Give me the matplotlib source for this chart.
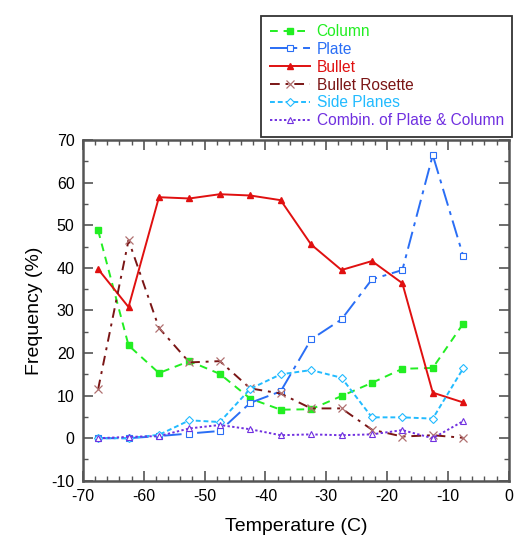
import matplotlib
matplotlib.use("Agg")
import matplotlib.pyplot as plt
from matplotlib.ticker import MultipleLocator

plt.rcParams['font.family'] = ['Liberation Sans', 'DejaVu Sans']
plt.rcParams['axes.unicode_minus'] = False

temp = [-67.5, -62.5, -57.5, -52.5, -47.5, -42.5, -37.5, -32.5, -27.5, -22.5, -17.5, -12.5, -7.5]

column = [48.8, 21.8, 15.3, 18.1, 15.1, 9.3, 6.7, 6.8, 9.9, 13.0, 16.3, 16.5, 26.9]
plate = [0.0, 0.0, 0.5, 1.1, 1.7, 8.3, 11.0, 23.2, 27.9, 37.3, 39.5, 66.5, 42.8]
bullet = [39.7, 30.8, 56.6, 56.3, 57.3, 57.0, 55.9, 45.5, 39.5, 41.6, 36.4, 10.7, 8.4]
rosette = [11.5, 46.5, 25.9, 17.8, 18.1, 11.7, 10.5, 7.0, 7.0, 2.0, 0.4, 0.7, 0.1]
side = [0.0, 0.0, 0.8, 4.2, 3.8, 11.6, 15.0, 16.0, 14.2, 4.9, 4.9, 4.6, 16.4]
combin = [0.0, 0.3, 0.5, 2.3, 3.1, 2.1, 0.7, 0.9, 0.7, 0.9, 1.9, 0.0, 4.0]

series = [
    ("Column", column, "#22ee22", (0, (4, 3)), "s", True),
    ("Plate", plate, "#2a6ef5", (0, (9, 3, 2, 3)), "s", False),
    ("Bullet", bullet, "#e01010", "-", "^", True),
    ("Bullet Rosette", rosette, "#7a1515", (0, (5, 3, 1.5, 3)), "x", False),
    ("Side Planes", side, "#22bbff", (0, (2.5, 1.5)), "D", False),
    ("Combin. of Plate & Column", combin, "#7030e0", (0, (1.2, 1.2)), "^", False),
]

fig = plt.figure(figsize=(5.15, 5.39), dpi=100)
ax = fig.add_axes([0.161, 0.108, 0.827, 0.632])

for name, vals, col, ls, mk, filled in series:
    ms = 5 if mk != "D" else 4.2
    if mk == "x":
        ax.plot(temp, vals, color=col, linestyle=ls, linewidth=1.4, marker=mk,
                markersize=6, markeredgecolor="#b07070", markeredgewidth=0.9, label=name)
    elif filled:
        ax.plot(temp, vals, color=col, linestyle=ls, linewidth=1.4, marker=mk,
                markersize=ms, label=name)
    else:
        ax.plot(temp, vals, color=col, linestyle=ls, linewidth=1.4, marker=mk,
                markersize=ms, markerfacecolor="white", markeredgewidth=0.8,
                markeredgecolor=col, label=name)

ax.set_xlim(-70, 0)
ax.set_ylim(-10, 70)
ax.xaxis.set_major_locator(MultipleLocator(10))
ax.xaxis.set_minor_locator(MultipleLocator(2))
ax.yaxis.set_major_locator(MultipleLocator(10))
ax.yaxis.set_minor_locator(MultipleLocator(5))
ax.tick_params(which="both", direction="in", top=True, right=True, color="#555555")
ax.tick_params(which="major", length=7, width=1.2, labelsize=11.5, pad=6)
ax.tick_params(which="minor", length=3.5, width=1.0)
for sp in ax.spines.values():
    sp.set_color("#555555")
    sp.set_linewidth(1.8)

ax.set_xlabel("Temperature (C)", fontsize=14, labelpad=10)
ax.set_ylabel("Frequency (%)", fontsize=14, labelpad=6)

leg = fig.legend(loc="upper right", bbox_to_anchor=(0.998, 0.974), fontsize=11.2,
                 handlelength=2.6, handletextpad=0.4, labelspacing=0.18,
                 borderpad=0.55, borderaxespad=0.1, fancybox=False, framealpha=1)
leg.get_frame().set_edgecolor("#333333")
leg.get_frame().set_linewidth(1.3)
for txt, s in zip(leg.get_texts(), series):
    txt.set_color(s[2])

fig.savefig("out.png", dpi=100)
